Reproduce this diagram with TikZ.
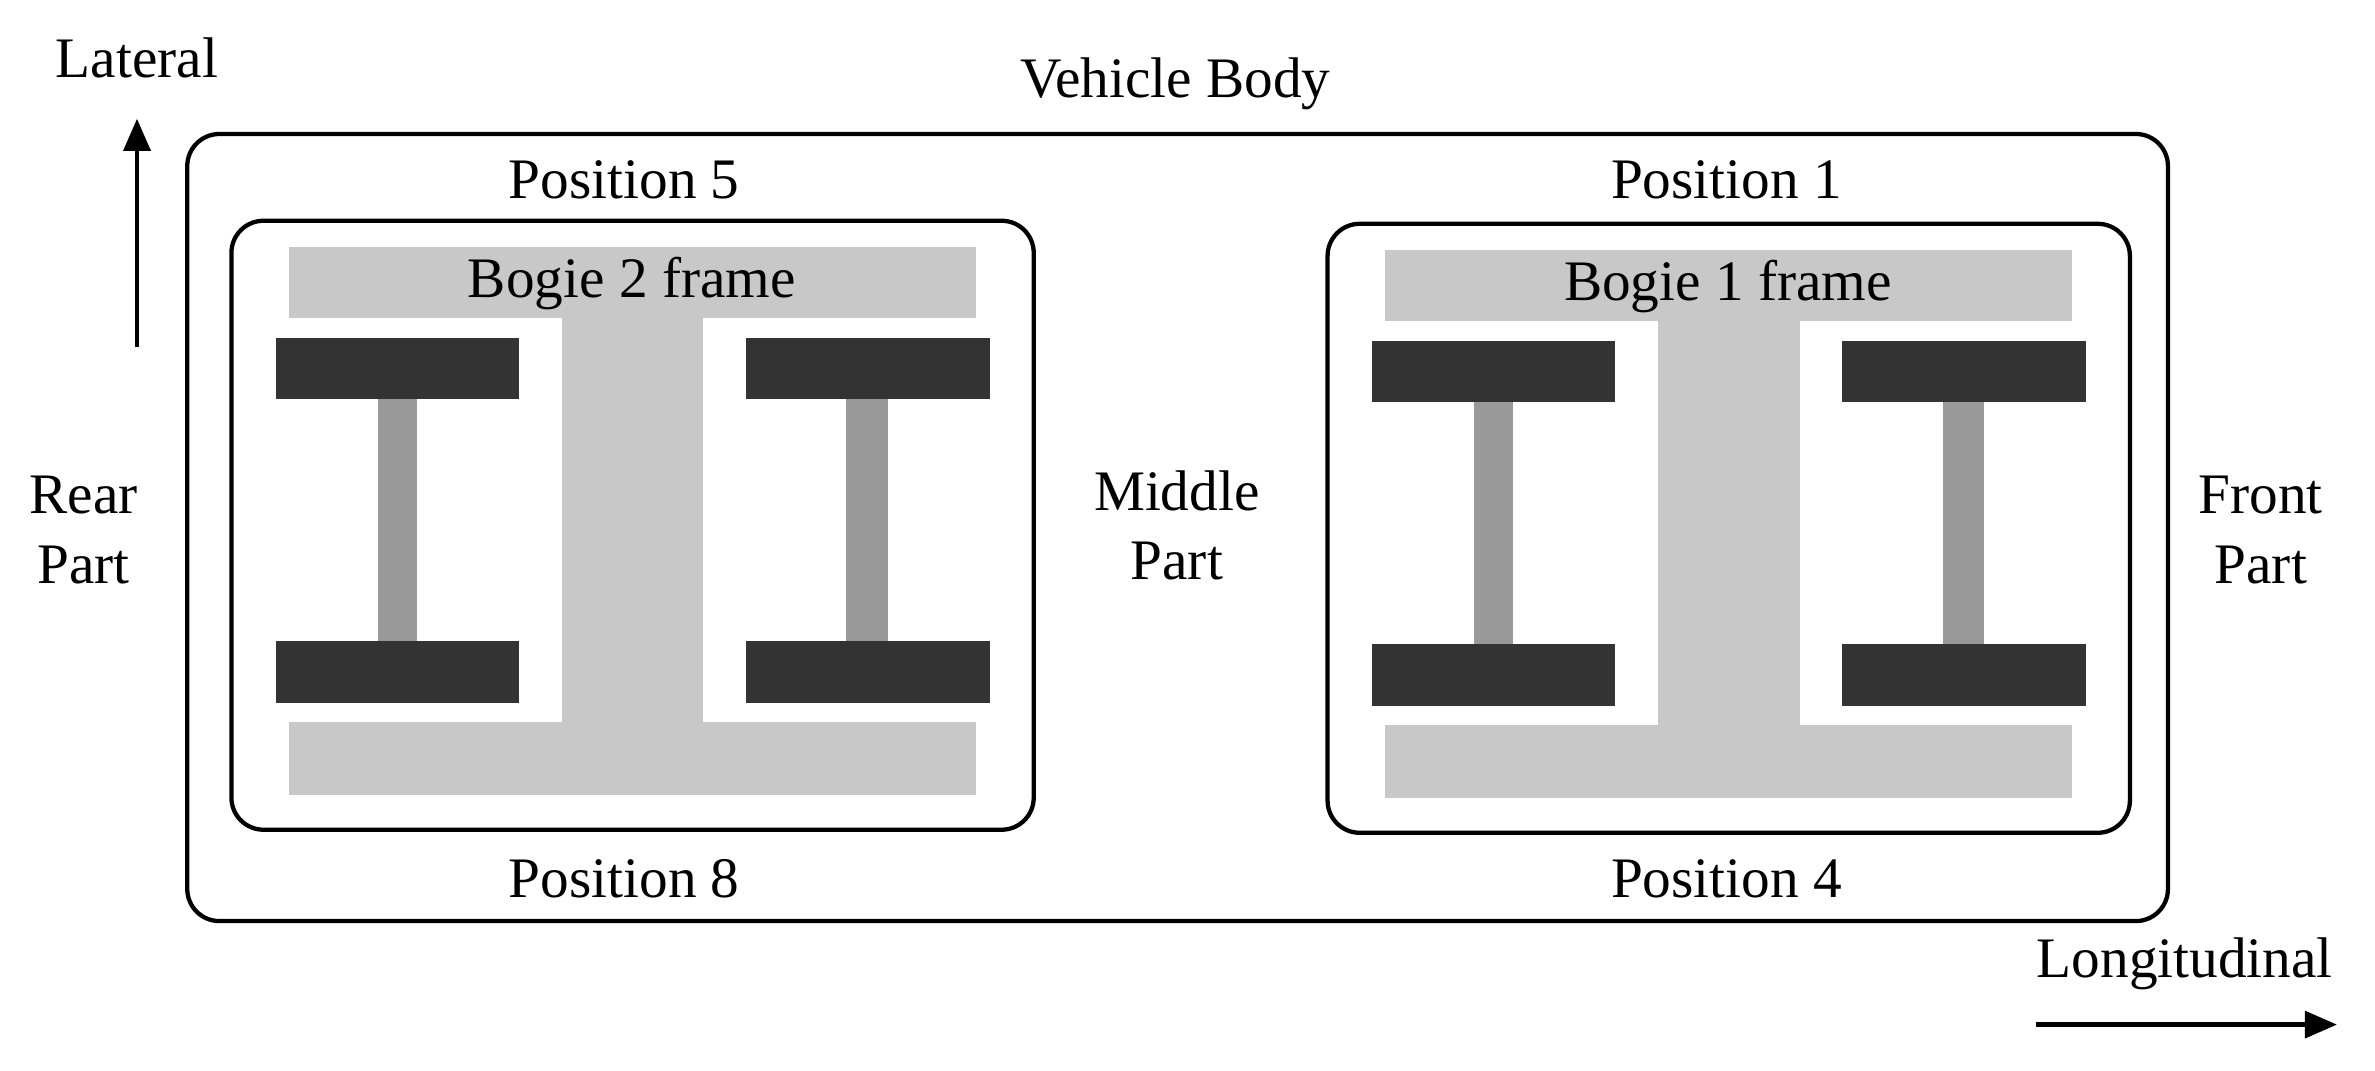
\documentclass[tikz,border=0pt]{standalone}
\usepackage{fontspec}
\setmainfont{Liberation Serif}
\usetikzlibrary{positioning}
\usetikzlibrary{arrows.meta}
\definecolor{framegray}{HTML}{C8C8C8}
\definecolor{wheeldark}{HTML}{333333}
\definecolor{axlegray}{HTML}{999999}
\tikzstyle{T} = [inner sep=0pt,font=\fontsize{10.7}{13}\selectfont,align=center]
\tikzstyle{box} = [draw,line width=0.8pt,rounded corners=6pt]
\tikzstyle{fr} = [fill=framegray,draw=none]
\tikzstyle{wh} = [fill=wheeldark,draw=none]
\tikzstyle{ax} = [fill=axlegray,draw=none]
\tikzstyle{dir} = [-{Triangle[length=6pt,width=5pt]},line width=0.8pt]

\begin{document}
\begin{tikzpicture}[x=0.01cm,y=-0.01cm]
	\useasboundingbox (0,0) rectangle (1560,703);
	
	\draw [box] (123,88) rectangle (1424,605);
	\node [T] (vb) at (772,55) {Vehicle Body};
	%%%%%%%%%%%%%%%
	\foreach \dx/\dy/\n in {0/0/2,720/2/1}{
	\begin{scope}[shift={(\dx,\dy)}]
	\draw [box] (152,145) rectangle (679,545);
	\fill [fr] (190,162) rectangle (641,209);
	\fill [fr] (190,474) rectangle (641,522);
	\fill [fr] (369,205) rectangle (462,478);
	\fill [wh] (181,222) rectangle (341,262);
	\fill [wh] (181,421) rectangle (341,462);
	\fill [wh] (490,222) rectangle (650,262);
	\fill [wh] (490,421) rectangle (650,462);
	\fill [ax] (248,262) rectangle (274,421);
	\fill [ax] (556,262) rectangle (583,421);
	\node [T] (b\n) at (415,186) {Bogie \n\ frame};
	\end{scope}
	}
	%%%%%%%%%%%%%%%
	\node [T] (p5) at (410,118) {Position 5};
	\node [T] (p1) at (1134,118) {Position 1};
	\node [T] (p8) at (410,577) {Position 8};
	\node [T] (p4) at (1134,577) {Position 4};
	\node [T] (rear) at (55,348) {Rear\\Part};
	\node [T] (mid) at (773,345) {Middle\\Part};
	\node [T] (front) at (1485,348) {Front\\Part};
	%%%%%%%%%%%%%%%
	\node [T] (lat) at (90,38) {Lateral};
	\coordinate (lat0) at (90,228);
	\coordinate (lat1) at (90,78);
	\draw [dir] (lat0) -- (lat1);
	\node [T] (lon) at (1435,633) {Longitudinal};
	\coordinate (lon0) at (1337,673);
	\coordinate (lon1) at (1535,673);
	\draw [dir] (lon0) -- (lon1);
\end{tikzpicture}
\end{document}
